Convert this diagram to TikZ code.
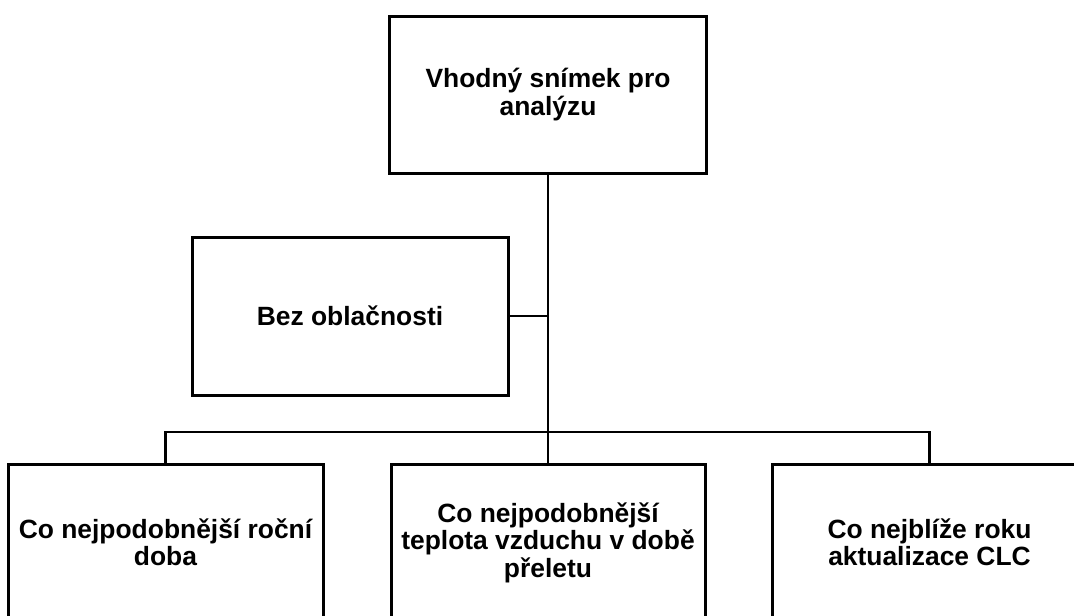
\documentclass[tikz,border=0pt]{standalone}
\usepackage{fontspec}
\setmainfont{Liberation Sans}
\tikzset{
  box/.style={draw=black, line width=3pt, fill=white, minimum height=157pt, inner sep=0pt,
    align=center, font=\fontsize{26.4}{27.5}\selectfont\bfseries},
  conn/.style={draw=black, line width=2.3pt}
}
\begin{document}
\begin{tikzpicture}[x=1pt,y=-1pt]
\useasboundingbox (0,0) rectangle (1074,616);
\clip (0,0) rectangle (1074,616);
\fill[white] (0,0) rectangle (1074,616);
\node[box, minimum width=317pt] (top) at (548,94.5) {Vhodný snímek pro\\analýzu};
\node[box, minimum width=316pt, minimum height=158pt] (cloud) at (350,316) {Bez oblačnosti};
\node[box, minimum width=315pt] (lb) at (165.5,542.5) {Co nejpodobnější roční\\doba};
\node[box, minimum width=314pt] (mb) at (548,542.5) {Co nejpodobnější\\teplota vzduchu v době\\přeletu};
\node[box, minimum width=315pt] (rb) at (929.5,542.5) {Co nejblíže roku\\aktualizace CLC};
\coordinate (bus) at (548,432);
\draw[conn] (top.south) -- (mb.north);
\draw[conn] (cloud.east) -- (cloud.east -| top.south);
\draw[conn] (lb.north) |- (bus) -| (rb.north);
\end{tikzpicture}
\end{document}
